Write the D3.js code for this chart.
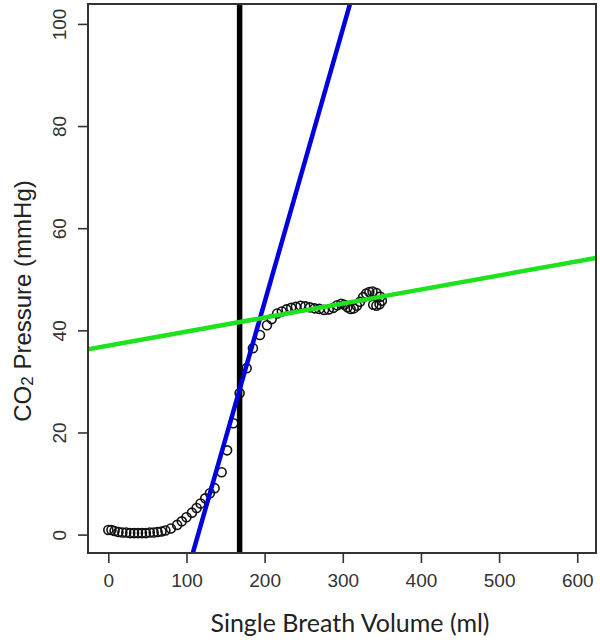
<!DOCTYPE html>
<html lang="en">
<head>
  <meta charset="UTF-8">
  <title>CO2 single breath</title>
  <script src="https://cdn.jsdelivr.net/npm/d3@7"></script>
  <style>
    body { margin: 0; background: #fff; }
    svg { display: block; }
  </style>
</head>
<body>
  <svg width="600" height="642"></svg>
  <script>
    // breath samples (ml, mmHg)
    var volume = [0, 4, 8, 13, 18, 23, 28, 33, 38, 43, 48, 53, 58, 63, 68, 73,
      80, 88, 94, 100, 107, 113, 118, 124, 130, 136, 145, 152, 160, 168,
      177, 185, 194, 203, 209, 216, 222, 228, 234, 240, 246, 252, 258, 264,
      270, 276, 282, 288, 293, 298, 302, 306, 310, 314, 318, 322, 326, 330,
      334, 338, 343, 348, 350, 347, 343, 339];
    var pressure = [0.9, 0.9, 0.7, 0.5, 0.4, 0.4, 0.3, 0.3, 0.3, 0.3, 0.3, 0.4, 0.4, 0.5, 0.6, 0.8,
      1.2, 1.9, 2.6, 3.4, 4.3, 5.2, 6.1, 7.1, 8.1, 9.1, 12.2, 16.5, 21.8, 27.7,
      32.6, 36.5, 39.1, 41.0, 42.2, 43.3, 43.7, 44.1, 44.4, 44.6, 44.8, 44.7, 44.5, 44.3,
      44.2, 44.0, 44.1, 44.4, 44.9, 45.2, 45.0, 44.5, 44.2, 44.3, 44.8, 45.6, 46.5, 47.2,
      47.5, 47.6, 47.3, 46.6, 45.8, 45.1, 44.8, 45.0];

    // fitted lines y = a + b*x : phase II (blue), phase III (green)
    var lineNames = ['phase2', 'phase3'];
    var lineIntercepts = [-61.4, 37.0];
    var lineSlopes = [0.5346, 0.0275];
    var lineColors = ['#0000dd', '#1fe21f'];
    var airwayDeadSpace = [168];

    var xTicks = [0, 100, 200, 300, 400, 500, 600];
    var yTicks = [0, 20, 40, 60, 80, 100];

    var svg = d3.select('svg');
    var box = {left: 88, right: 596, top: 4, bottom: 553};

    var xScale = d3.scaleLinear().domain([-26, 624]).range([box.left, box.right]);
    var yScale = d3.scaleLinear().domain([-3.6, 103.9]).range([box.bottom, box.top]);

    svg.append('defs').append('clipPath').attr('id', 'plotclip')
      .append('rect')
      .attr('x', box.left).attr('y', box.top)
      .attr('width', box.right - box.left).attr('height', box.bottom - box.top);

    var plot = svg.append('g').attr('clip-path', 'url(#plotclip)');

    // points
    plot.selectAll('circle.pt')
      .data(volume.map(function(v, i) { return {x: v, y: pressure[i]}; }))
      .enter().append('circle')
      .attr('class', 'pt')
      .attr('cx', function(d) { return xScale(d.x); })
      .attr('cy', function(d) { return yScale(d.y); })
      .attr('r', 4.5)
      .attr('fill', 'none')
      .attr('stroke', '#111')
      .attr('stroke-width', 1.6);

    // vertical marker
    plot.selectAll('line.v')
      .data(airwayDeadSpace)
      .enter().append('line')
      .attr('x1', function(d) { return xScale(d); })
      .attr('x2', function(d) { return xScale(d); })
      .attr('y1', yScale(yScale.domain()[0]))
      .attr('y2', yScale(yScale.domain()[1]))
      .attr('stroke', '#000')
      .attr('stroke-width', 5.5);

    // regression lines
    var xd = xScale.domain();
    plot.selectAll('line.fit')
      .data(lineNames)
      .enter().append('line')
      .attr('class', 'fit')
      .attr('x1', xScale(xd[0]))
      .attr('x2', xScale(xd[1]))
      .attr('y1', function(d, i) { return yScale(lineIntercepts[i] + lineSlopes[i] * xd[0]); })
      .attr('y2', function(d, i) { return yScale(lineIntercepts[i] + lineSlopes[i] * xd[1]); })
      .attr('stroke', function(d, i) { return lineColors[i]; })
      .attr('stroke-width', 4.5);

    // frame
    svg.append('rect')
      .attr('x', box.left).attr('y', box.top)
      .attr('width', box.right - box.left).attr('height', box.bottom - box.top)
      .attr('fill', 'none').attr('stroke', '#333').attr('stroke-width', 2);

    // axes
    var xAxis = d3.axisBottom(xScale).tickValues(xTicks).tickSize(9).tickPadding(11);
    var gx = svg.append('g')
      .attr('transform', 'translate(0,' + (box.bottom + 1) + ')')
      .call(xAxis);
    gx.select('.domain').remove();
    gx.selectAll('line').attr('stroke', '#333').attr('stroke-width', 1.6);
    gx.selectAll('text')
      .attr('font-family', '"Liberation Sans", Arial, sans-serif')
      .attr('font-size', 19).attr('fill', '#333');

    var yAxis = d3.axisLeft(yScale).tickValues(yTicks).tickSize(9).tickPadding(0);
    var gy = svg.append('g')
      .attr('transform', 'translate(' + (box.left - 1) + ',0)')
      .call(yAxis);
    gy.select('.domain').remove();
    gy.selectAll('line').attr('stroke', '#333').attr('stroke-width', 1.6);
    gy.selectAll('text')
      .attr('font-family', '"Liberation Sans", Arial, sans-serif')
      .attr('font-size', 19).attr('fill', '#333')
      .attr('x', 0).attr('dy', null)
      .attr('text-anchor', 'middle')
      .attr('transform', 'translate(-21,0) rotate(-90)');

    // titles
    svg.append('text')
      .attr('x', 350).attr('y', 632)
      .attr('text-anchor', 'middle')
      .attr('font-family', 'Lato, "Open Sans", sans-serif')
      .attr('font-size', 25)
      .attr('fill', '#222')
      .text('Single Breath Volume (ml)');

    var yt = svg.append('text')
      .attr('transform', 'translate(31,301) rotate(-90)')
      .attr('text-anchor', 'middle')
      .attr('font-family', '"Liberation Sans", Arial, sans-serif')
      .attr('font-size', 24)
      .attr('fill', '#222');
    yt.append('tspan').text('CO');
    yt.append('tspan').attr('font-size', 17).attr('dy', 2).text('2');
    yt.append('tspan').attr('dy', -2).text(' Pressure (mmHg)');
  </script>
</body>
</html>
